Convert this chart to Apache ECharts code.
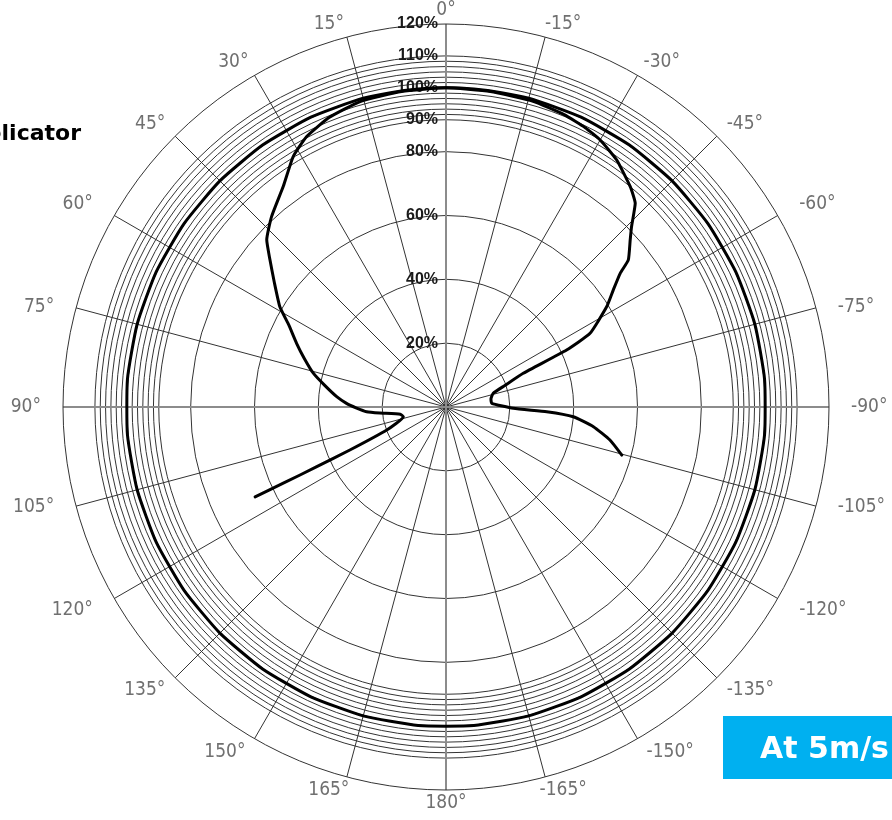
<!DOCTYPE html>
<html>
<head>
<meta charset="utf-8">
<script src="https://cdn.jsdelivr.net/npm/echarts@6/dist/echarts.min.js"></script>
<style>
  html, body { margin: 0; padding: 0; background: #fff; }
  #chart { width: 892px; height: 820px; }
</style>
</head>
<body>
<div id="chart"></div>
<script>
  // rings on the radius axis (percent); the band between 90 and 110 is split in 12
  const ringValues = [20, 40, 60, 80, 90, 91.67, 93.33, 95, 96.67, 98.33, 100, 101.67, 103.33, 105, 106.67, 108.33, 110]
  const ringLabels = [20, 40, 60, 80, 90, 100, 110, 120]
  // the grey cross
  const crossAngles = [0, 90, 180, 270]

  // measured pattern, from the left tail, over the top, to the right tail
  // angle in degrees (positive = left of 0), level in percent
  const patternAngles = [115.2, 115.1, 114.8, 114.1, 111.2, 102.8, 99, 95.2, 93.4, 90.5, 87.9, 84.6, 80, 75.7, 71, 66.9, 62.5, 58.9, 54, 50.1, 47, 42.5, 36.4, 31.4, 27.3, 22, 15.7, 8, 0,
    -8, -15.9, -22, -26.5, -30, -34.6, -39.9, -42.9, -45.8, -47.8, -51.1, -52.5, -55, -58, -62.9, -64.7, -66.4, -70, -73.8, -80, -85.4, -91.1, -92.7, -94.4, -97.6, -101.4, -105.3]
  const patternValues = [66.1, 56.3, 44.6, 33.0, 19.9, 13.7, 14.5, 20.8, 24.9, 28.2, 31.2, 34.4, 38.5, 42.9, 47, 50.9, 55.5, 60.8, 66.5, 71.9, 76.8, 80.9, 85.9, 91.9, 95.3, 97.8, 99.4, 99.8, 100,
    99.8, 99.6, 98.8, 97.8, 96.6, 94.1, 90, 87.1, 81.1, 77.9, 73.4, 68.8, 64, 59.4, 50.7, 41.8, 26.4, 19.5, 15.4, 14.3, 14.4, 21.1, 31.6, 40, 46.6, 52.4, 57.1]

  // reference level, flat at 100 %
  const refAngles = [0, 10, 20, 30, 40, 50, 60, 70, 80, 90, 100, 110, 120, 130, 140, 150, 160, 170, 180,
    190, 200, 210, 220, 230, 240, 250, 260, 270, 280, 290, 300, 310, 320, 330, 340, 350, 360]
  const refValues = [100, 100, 100, 100, 100, 100, 100, 100, 100, 100, 100, 100, 100, 100, 100, 100, 100, 100, 100,
    100, 100, 100, 100, 100, 100, 100, 100, 100, 100, 100, 100, 100, 100, 100, 100, 100, 100]

  const toPolar = (angs, vals) => angs.map((a, i) => [vals[i], a < 0 ? a + 360 : a])
  const near = (list, v) => list.some(r => Math.abs(r - v) < 0.05)

  // radius ticks every 5/3 %, only the rings listed above are drawn
  const ringStep = 5 / 3
  const ringColors = []
  for (let k = 0; k * ringStep <= 120.01; k++) {
    ringColors.push(near(ringValues, k * ringStep) ? '#333' : 'rgba(0,0,0,0)')
  }
  // spokes every 15 deg, the cross ones come from the second polar
  const spokeColors = []
  for (let a = 0; a < 360; a += 15) {
    spokeColors.push(crossAngles.indexOf(a) >= 0 ? 'rgba(0,0,0,0)' : '#333')
  }

  const angFont = {color: '#707070', fontSize: 19, fontFamily: '"Liberation Sans Narrow", "DejaVu Sans Condensed", sans-serif'}
  // pick a label box so the labels sit out like in the scan
  function angleKey (v) {
    if (v === 0 || v === 180) return 'c'
    if (v === 15 || v === 165) return 'vl'
    if (v === 345 || v === 195) return 'vr'
    if (v === 30 || v === 330) return 'n'
    if (v === 45 || v === 135 || v === 150 || v === 210 || v === 225 || v === 315) return 'm'
    return 's'
  }

  const myChart = echarts.init(document.getElementById('chart'))
  const option = {
    animation: false,
    polar: [
      {center: [446, 407], radius: 383},
      {center: [446, 407], radius: 383}
    ],
    angleAxis: [
      {
        polarIndex: 0,
        type: 'value',
        min: 0,
        max: 360,
        interval: 15,
        startAngle: 90,
        clockwise: false,
        axisLine: {lineStyle: {color: '#333', width: 1}},
        axisTick: {show: false},
        axisLabel: {
          margin: 4,
          color: angFont.color,
          fontSize: angFont.fontSize,
          fontFamily: angFont.fontFamily,
          formatter: function (v) {
            const txt = (v > 180 ? '-' + (360 - v) : v) + '°'
            return '{' + angleKey(v) + '|' + txt + '}'
          },
          rich: {
            c: Object.assign({}, angFont),
            vl: Object.assign({padding: [0, 34, 0, 0]}, angFont),
            vr: Object.assign({padding: [0, 0, 0, 34]}, angFont),
            n: Object.assign({padding: [0, 4]}, angFont),
            m: Object.assign({padding: [0, 7]}, angFont),
            s: Object.assign({padding: [0, 18]}, angFont)
          }
        },
        splitLine: {show: true, lineStyle: {color: spokeColors, width: 1}}
      },
      {
        polarIndex: 1,
        type: 'value',
        min: 0,
        max: 360,
        interval: 90,
        startAngle: 90,
        clockwise: false,
        axisLine: {show: false},
        axisTick: {show: false},
        axisLabel: {show: false},
        splitLine: {show: true, lineStyle: {color: '#8c8c8c', width: 2}}
      }
    ],
    radiusAxis: [
      {
        polarIndex: 0,
        type: 'value',
        min: 0,
        max: 120,
        interval: ringStep,
        axisLine: {show: false},
        axisTick: {show: false},
        axisLabel: {
          margin: 8,
          color: '#1a1a1a',
          fontSize: 16,
          fontWeight: 'bold',
          fontFamily: 'Liberation Sans',
          formatter: function (v) {
            const r = Math.round(v)
            return (Math.abs(r - v) < 0.05 && ringLabels.indexOf(r) >= 0) ? r + '%' : ''
          }
        },
        splitLine: {show: true, lineStyle: {color: ringColors, width: 1}}
      },
      {
        polarIndex: 1,
        type: 'value',
        min: 0,
        max: 120,
        show: false,
        splitLine: {show: false}
      }
    ],
    series: [
      {
        name: 'reference',
        type: 'line',
        coordinateSystem: 'polar',
        polarIndex: 0,
        smooth: true,
        symbol: 'none',
        lineStyle: {color: '#000', width: 3},
        data: toPolar(refAngles, refValues)
      },
      {
        name: 'pattern',
        type: 'line',
        coordinateSystem: 'polar',
        polarIndex: 0,
        smooth: 0.15,
        symbol: 'none',
        lineStyle: {color: '#000', width: 3, join: 'round', cap: 'round'},
        data: toPolar(patternAngles, patternValues)
      }
    ],
    graphic: [
      {
        type: 'text',
        x: 81,
        y: 134,
        style: {
          text: 'Applicator',
          align: 'right',
          verticalAlign: 'middle',
          fill: '#000',
          font: 'bold 22px "DejaVu Sans"'
        }
      },
      {
        type: 'rect',
        x: 723,
        y: 716,
        shape: {width: 200, height: 63},
        style: {fill: '#00b0f0'}
      },
      {
        type: 'text',
        x: 760,
        y: 750,
        style: {
          text: 'At 5m/s',
          verticalAlign: 'middle',
          fill: '#fff',
          font: 'bold 30px "DejaVu Sans"'
        }
      }
    ]
  }
  myChart.setOption(option)
</script>
</body>
</html>
